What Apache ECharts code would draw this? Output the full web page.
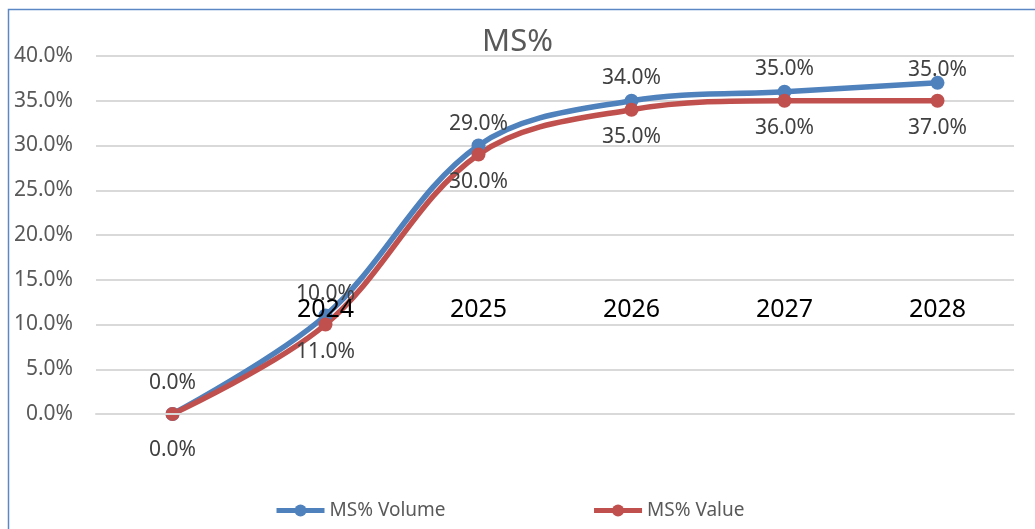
<!DOCTYPE html>
<html>
<head>
<meta charset="utf-8">
<script src="https://cdn.jsdelivr.net/npm/echarts@6/dist/echarts.min.js"></script>
<style>html,body{margin:0;padding:0;background:#fff;}#c{width:1035px;height:529px;}</style>
</head>
<body>
<div id="c"></div>
<script>
var categories = ['', '2024', '2025', '2026', '2027', '2028'];
var volumeData = [0, 11, 30, 35, 36, 37];
var valueData = [0, 10, 29, 34, 35, 35];
var volumeLabels = [0, 10, 29, 34, 35, 35];
var valueLabels = [0, 11, 30, 35, 36, 37];
var yTicks = [0, 5, 10, 15, 20, 25, 30, 35, 40];

// label placement tweaks (style only)
var volumeLabelDist = [13, 4, 4, 5, 5, -5];
var valueLabelDist = [19, 10, 10, 10, 10, 10];

var FONT = '"Noto Sans", "Open Sans", sans-serif';
function withDist(vals, dists) {
  return vals.map(function (v, i) { return { value: v, label: { distance: dists[i] } }; });
}
var chart = echarts.init(document.getElementById('c'));
chart.setOption({
  animation: false,
  backgroundColor: '#fff',
  graphic: [{
    type: 'polyline', z: 0, silent: true,
    shape: { points: [[8.5, 540], [8.5, 9.5], [1040, 9.5]] },
    style: { stroke: '#5b87c5', lineWidth: 1.5, fill: null }
  }],
  title: {
    text: 'MS%', left: 'center', top: 22,
    textStyle: { fontFamily: FONT, fontSize: 31, fontWeight: 'normal', color: '#595959' }
  },
  legend: {
    left: 269, top: 496,
    itemWidth: 48, itemHeight: 15, itemGap: 146,
    lineStyle: { width: 5 },
    textStyle: { fontFamily: FONT, fontSize: 19, color: '#595959' },
    data: ['MS% Volume', 'MS% Value']
  },
  grid: { left: 96, right: 21, top: 56, bottom: 115, containLabel: false },
  xAxis: {
    type: 'category', data: categories, boundaryGap: true, z: 10,
    axisLine: { show: true, lineStyle: { color: '#d9d9d9', width: 2 } },
    axisTick: { show: false },
    axisLabel: { margin: -104, verticalAlign: 'middle', fontFamily: FONT, fontSize: 25, color: '#000' }
  },
  yAxis: {
    type: 'value', min: yTicks[0], max: yTicks[yTicks.length - 1], interval: 5,
    axisLine: { show: false }, axisTick: { show: false },
    splitLine: { lineStyle: { color: '#d9d9d9', width: 2 } },
    axisLabel: {
      margin: 23, fontFamily: FONT, fontSize: 21, color: '#595959',
      formatter: function (v) { return v.toFixed(1) + '%'; }
    }
  },
  series: [{
    name: 'MS% Volume', type: 'line', data: withDist(volumeData, volumeLabelDist), smooth: 0.35,
    symbol: 'circle', symbolSize: 14,
    lineStyle: { color: '#4f81bd', width: 5.5 },
    itemStyle: { color: '#4f81bd' },
    label: {
      show: true, position: 'top',
      fontFamily: FONT, fontSize: 21, color: '#404040',
      formatter: function (p) { return volumeLabels[p.dataIndex].toFixed(1) + '%'; }
    }
  }, {
    name: 'MS% Value', type: 'line', data: withDist(valueData, valueLabelDist), smooth: 0.35,
    symbol: 'circle', symbolSize: 14,
    lineStyle: { color: '#c0504d', width: 5.5 },
    itemStyle: { color: '#c0504d' },
    label: {
      show: true, position: 'bottom',
      fontFamily: FONT, fontSize: 21, color: '#404040',
      formatter: function (p) { return valueLabels[p.dataIndex].toFixed(1) + '%'; }
    }
  }]
});
</script>
</body>
</html>
